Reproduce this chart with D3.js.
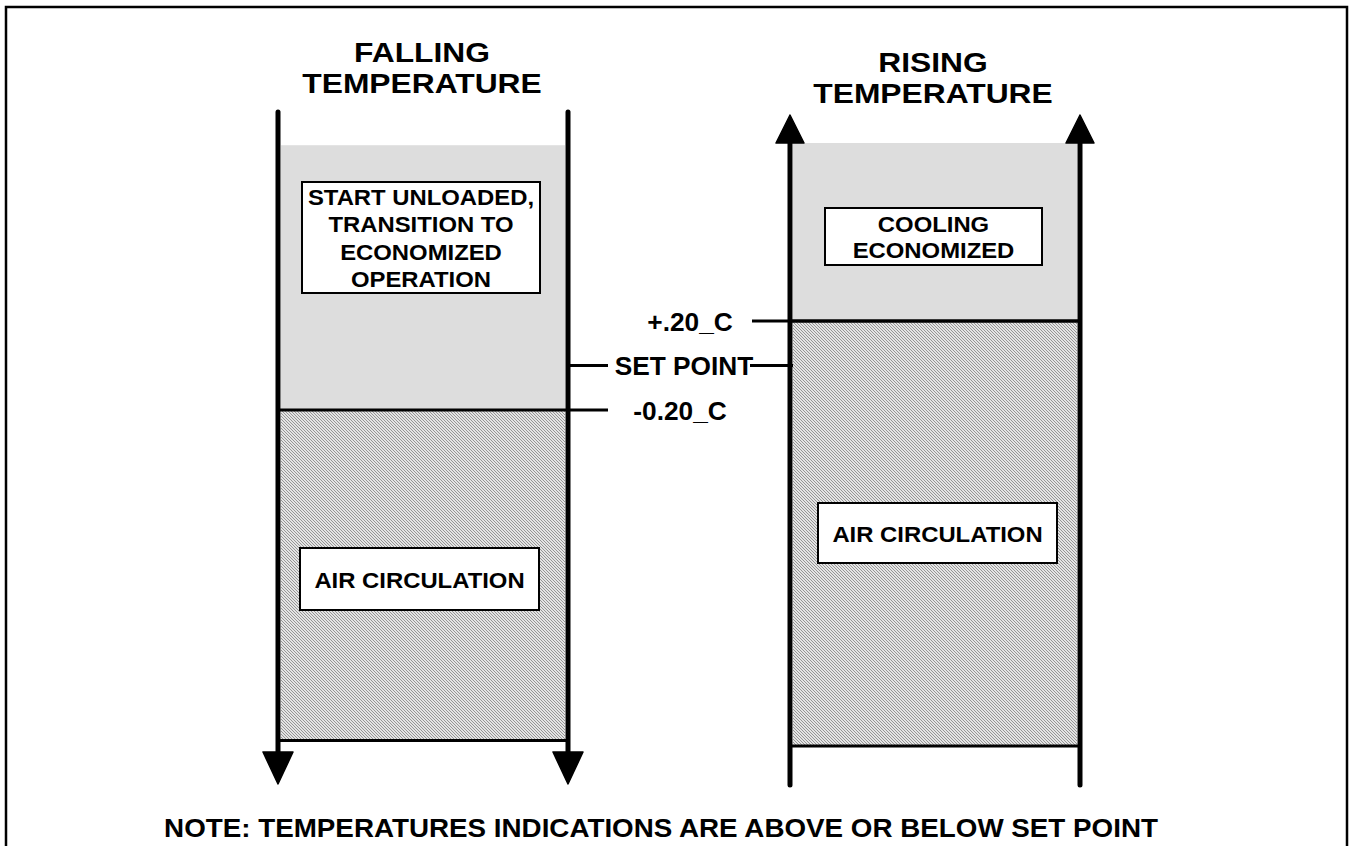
<!DOCTYPE html>
<html><head><meta charset="utf-8">
<script src="https://cdn.jsdelivr.net/npm/d3@7"></script>
<style>
html,body{margin:0;padding:0;background:#fff;}
svg{display:block;font-family:"Liberation Sans",Arial,sans-serif;font-weight:bold;}
</style></head>
<body>
<script>
// ---- data ----
const panels = ["FALLING", "RISING"];
const panelTitles = [["FALLING", "TEMPERATURE"], ["RISING", "TEMPERATURE"]];
const arrowDirection = ["down", "up"];
// zones in °C offset from set point (schematic scale)
const grayTop = [0.99, 1.0];
const bandEdge = [-0.20, 0.20];      // boundary between zones
const hatchBottom = [-1.685, -1.71];
const zoneLabelsTop = [["START UNLOADED,", "TRANSITION TO", "ECONOMIZED", "OPERATION"], ["COOLING", "ECONOMIZED"]];
const zoneLabelsBottom = [["AIR CIRCULATION"], ["AIR CIRCULATION"]];
const thresholds = [0.20, 0.0, -0.20];
const thresholdLabels = ["+.20_C", "SET POINT", "-0.20_C"];
const note = "NOTE: TEMPERATURES INDICATIONS ARE ABOVE OR BELOW SET POINT";

const W = 1349, H = 846;
const svg = d3.select("body").append("svg").attr("width", W).attr("height", H);

const defs = svg.append("defs");
const pat = defs.append("pattern").attr("id", "hatch").attr("patternUnits", "userSpaceOnUse")
  .attr("width", 3).attr("height", 3);
pat.append("rect").attr("width", 3).attr("height", 3).attr("fill", "#e4e4e4");
pat.append("path").attr("d", "M0,0 L3,3 M-1,2 L1,4 M2,-1 L4,1").attr("stroke", "#8c8c8c").attr("stroke-width", 0.9);

function stext(parent, cx, cy, str, fs, sx) {
  return parent.append("text")
    .attr("transform", `translate(${cx},${cy}) scale(${sx},1)`)
    .attr("text-anchor", "middle").attr("dominant-baseline", "central")
    .attr("font-size", fs).text(str);
}

svg.append("rect").attr("x", 6).attr("y", 7).attr("width", 1341).attr("height", 850)
  .attr("fill", "none").attr("stroke", "#000").attr("stroke-width", 2.5);

const x = d3.scaleBand().domain(panels).range([278, 1080]).paddingInner(222 / 512).paddingOuter(0);
const y = d3.scaleLinear().domain([0.2, -0.2]).range([321, 410]);
const bw = x.bandwidth();

panels.forEach((p, i) => {
  const x0 = x(p), x1 = x0 + bw, cx = x0 + bw / 2;
  const g = svg.append("g");
  g.append("rect").attr("x", x0 + 3).attr("y", y(grayTop[i])).attr("width", bw - 6)
    .attr("height", y(bandEdge[i]) - y(grayTop[i])).attr("fill", "#dddddd");
  g.append("rect").attr("x", x0 + 3).attr("y", y(bandEdge[i])).attr("width", bw - 6)
    .attr("height", y(hatchBottom[i]) - y(bandEdge[i])).attr("fill", "url(#hatch)");
  g.append("line").attr("x1", x0).attr("x2", x1).attr("y1", y(hatchBottom[i])).attr("y2", y(hatchBottom[i]))
    .attr("stroke", "#000").attr("stroke-width", 3);
  g.append("line").attr("x1", x0).attr("x2", x1).attr("y1", y(bandEdge[i])).attr("y2", y(bandEdge[i]))
    .attr("stroke", "#000").attr("stroke-width", 3);

  [x0, x1].forEach(xx => {
    if (arrowDirection[i] === "down") {
      g.append("line").attr("x1", xx).attr("x2", xx).attr("y1", 112).attr("y2", 756)
        .attr("stroke", "#000").attr("stroke-width", 5).attr("stroke-linecap", "round");
      g.append("path").attr("d", `M${xx - 15},752 L${xx + 15},752 L${xx},784 Z`).attr("fill", "#000")
        .attr("stroke", "#000").attr("stroke-linejoin", "round").attr("stroke-width", 1.5);
    } else {
      g.append("line").attr("x1", xx).attr("x2", xx).attr("y1", 140).attr("y2", 785)
        .attr("stroke", "#000").attr("stroke-width", 5).attr("stroke-linecap", "round");
      g.append("path").attr("d", `M${xx - 14},143 L${xx + 14},143 L${xx},115 Z`).attr("fill", "#000")
        .attr("stroke", "#000").attr("stroke-linejoin", "round").attr("stroke-width", 1.5);
    }
  });

  const ty = i === 0 ? [52, 83] : [62, 93];
  panelTitles[i].forEach((t, k) => {
    stext(g, i === 0 ? cx - 1 : cx - 2, ty[k], t, 28.5, 1.115);
  });
});

function box(x0, y0, x1, y1, lines, lh, fs, sx) {
  svg.append("rect").attr("x", x0).attr("y", y0).attr("width", x1 - x0).attr("height", y1 - y0)
    .attr("fill", "#fff").attr("stroke", "#000").attr("stroke-width", 2);
  const cy = (y0 + y1) / 2, cx = (x0 + x1) / 2;
  lines.forEach((t, k) => {
    stext(svg, cx, cy + 1 + (k - (lines.length - 1) / 2) * lh, t, fs, sx);
  });
}
box(302, 182, 540, 293, zoneLabelsTop[0], 27.5, 21.5, 1.11);
box(825, 208, 1042, 265, zoneLabelsTop[1], 26, 21.5, 1.11);
box(300, 548, 539, 610, zoneLabelsBottom[0], 0, 21.5, 1.11);
box(818, 503, 1057, 563, zoneLabelsBottom[1], 0, 21.5, 1.11);

const lx0 = x(panels[0]) + bw, lx1 = x(panels[1]);
const labelCx = [690, 684, 680];
svg.append("line").attr("x1", 752).attr("x2", lx1 + bw).attr("y1", y(thresholds[0])).attr("y2", y(thresholds[0]))
  .attr("stroke", "#000").attr("stroke-width", 3);
svg.append("line").attr("x1", lx0).attr("x2", 608).attr("y1", y(thresholds[1])).attr("y2", y(thresholds[1]))
  .attr("stroke", "#000").attr("stroke-width", 3);
svg.append("line").attr("x1", 750).attr("x2", lx1 + 3).attr("y1", y(thresholds[1])).attr("y2", y(thresholds[1]))
  .attr("stroke", "#000").attr("stroke-width", 3);
svg.append("line").attr("x1", lx0).attr("x2", 608).attr("y1", y(thresholds[2])).attr("y2", y(thresholds[2]))
  .attr("stroke", "#000").attr("stroke-width", 3);
thresholds.forEach((t, k) => {
  stext(svg, labelCx[k], y(t) + 1, thresholdLabels[k], 25, 1.05);
});

stext(svg, 661, 828, note, 25.5, 1.09);
</script>
</body></html>
